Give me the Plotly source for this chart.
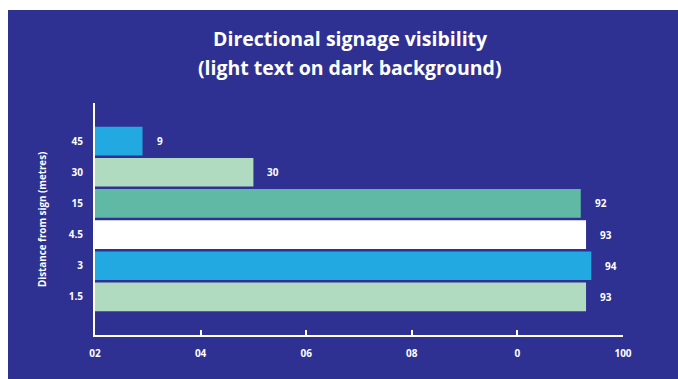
import plotly.graph_objects as go

# Distance categories (bottom to top) and visibility scores
distances = ["1.5", "3", "4.5", "15", "30", "45"]
visibility = [93, 94, 93, 92, 30, 9]
bar_colors = ["#B0DBC1", "#23A9E1", "#FFFFFF", "#5FB9A5", "#B0DBC1", "#23A9E1"]

tick_vals = [0, 20, 40, 60, 80, 100]
tick_text = ["02", "04", "06", "08", "0", "100"]

BG = "#2E3192"
FONT = "Open Sans"

W, H = 678, 379
ML, MR, MT, MB = 95, 55, 103, 44
PW, PH = W - ML - MR, H - MT - MB

def px_x(px):
    return (px - ML) / PW

def px_y(py):
    return (H - MB - py) / PH

fig = go.Figure(
    go.Bar(
        y=distances,
        x=visibility,
        orientation="h",
        marker=dict(color=bar_colors, line=dict(width=0)),
        hoverinfo="skip",
    )
)

annotations = []
# Value labels beside each bar (category index used as the y position)
for i, v in enumerate(visibility):
    annotations.append(dict(
        x=v, y=i, xref="x", yref="y", text=str(v), showarrow=False,
        xanchor="left", xshift=12,
        font=dict(family=FONT, size=10, color="white", weight="bold"),
    ))

# Title, two lines
annotations.append(dict(
    x=px_x(350), y=px_y(38), xref="paper", yref="paper",
    text="Directional signage visibility", showarrow=False,
    xanchor="center", yanchor="middle",
    font=dict(family=FONT, size=19.5, color="white", weight="bold"),
))
annotations.append(dict(
    x=px_x(350), y=px_y(68), xref="paper", yref="paper",
    text="(light text on dark background)", showarrow=False,
    xanchor="center", yanchor="middle",
    font=dict(family=FONT, size=19.5, color="white", weight="bold"),
))

# Vertical axis title
annotations.append(dict(
    x=px_x(42), y=px_y(220), xref="paper", yref="paper",
    text="Distance from sign (metres)", showarrow=False, textangle=-90,
    xanchor="center", yanchor="middle",
    font=dict(family=FONT, size=9.8, color="white", weight="bold"),
))

fig.update_layout(
    width=W, height=H,
    margin=dict(l=ML, r=MR, t=MT, b=MB, pad=0),
    paper_bgcolor="white",
    plot_bgcolor=BG,
    showlegend=False,
    bargap=0.08,
    annotations=annotations,
    shapes=[dict(
        type="rect", xref="paper", yref="paper", layer="below",
        x0=px_x(8), x1=px_x(W + 2), y0=px_y(H + 2), y1=px_y(10),
        fillcolor=BG, line=dict(width=0),
    )],
    xaxis=dict(
        range=[0, 100], tickvals=tick_vals, ticktext=tick_text,
        showgrid=False, zeroline=False,
        showline=True, linecolor="white", linewidth=2,
        ticks="inside", ticklen=5, tickwidth=2, tickcolor="white",
        tickfont=dict(family=FONT, size=10, color="white", weight="bold"),
        ticklabelstandoff=8,
        fixedrange=True,
    ),
    yaxis=dict(
        categoryorder="array", categoryarray=distances,
        range=[-1.22, 6.22],
        showgrid=False, zeroline=False,
        showline=True, linecolor="white", linewidth=2,
        ticks="",
        tickfont=dict(family=FONT, size=10, color="white", weight="bold"),
        ticklabelstandoff=8,
        fixedrange=True,
    ),
)

fig.write_html("out.html", config={"displayModeBar": False})
